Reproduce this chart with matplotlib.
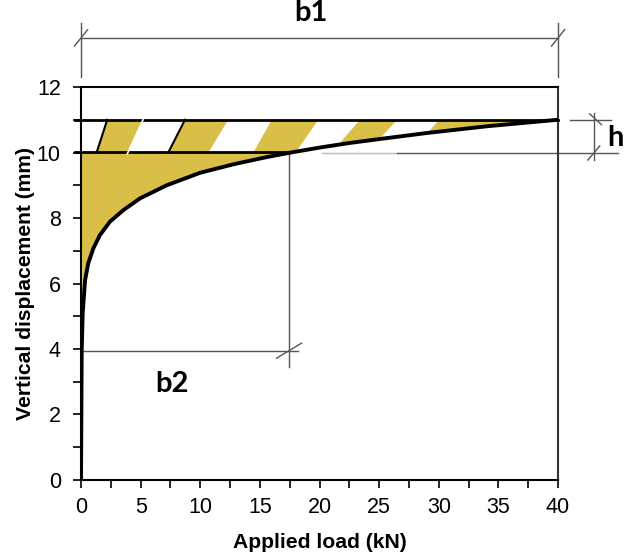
import numpy as np
import matplotlib
matplotlib.use("Agg")
import matplotlib.pyplot as plt
from matplotlib.patches import Polygon

# load-displacement curve
load = [0, 0.03, 0.06, 0.14, 0.34, 0.61, 1.03, 1.59, 2.43, 3.55, 4.95, 7.19, 9.98,
        12.77, 15.57, 17.6, 20.0, 22.5, 25.0, 29.1, 34.0, 40.0]
disp = [0, 2.0, 3.97, 5.09, 6.1, 6.62, 7.07, 7.48, 7.89, 8.24, 8.6, 9.0, 9.38,
        9.64, 9.86, 10.0, 10.15, 10.29, 10.41, 10.6, 10.8, 11.0]

# hatched band limits (mm) and stripe edges (kN) at top / bottom of band
band_low, band_high = 10.0, 11.0
stripe_top_start = [2.2, 8.72, 16.0, 23.4, 30.0]
stripe_top_end = [5.2, 12.35, 19.9, 26.5, 40.0]
stripe_bot_start = [1.31, 7.32, 14.45, 21.0, 27.6]
stripe_bot_end = [3.97, 10.68, 18.0, 24.0, 40.0]

# dimension annotations
b1_level = 13.5
b2_load = 17.45
b2_disp = 3.95
h_load = 43.0

yellow = "#d9bf47"
load = np.array(load)
disp = np.array(disp)

fig = plt.figure(figsize=(6.27, 5.56), dpi=100)
ax = fig.add_axes([0.1292, 0.1367, 0.7608, 0.7068])
ax.set_xlim(0, 40)
ax.set_ylim(0, 12)

# yellow area under y=10 between axis and curve
low = (disp >= 4.5) & (disp <= band_low + 0.05)
ax.fill(np.r_[0, load[low]], np.r_[band_low, disp[low]], color=yellow, lw=0, zorder=1)

# band between y=10 / curve and y=11, used to clip the stripes
upper = load >= 17.6
band_x = np.r_[0, 40, load[upper][::-1], 0]
band_y = np.r_[band_high, band_high, disp[upper][::-1], band_low]
band = Polygon(np.c_[band_x, band_y], closed=True, transform=ax.transData)
for ts, te, bs, be in zip(stripe_top_start, stripe_top_end, stripe_bot_start, stripe_bot_end):
    p = Polygon([(bs, band_low), (be, band_low), (te, band_high), (ts, band_high)],
                closed=True, color=yellow, lw=0, zorder=1)
    ax.add_patch(p)
    p.set_clip_path(band)
# hand drawn stripe edges
for i in range(2):
    ax.plot([stripe_bot_start[i], stripe_top_start[i]], [band_low, band_high],
            color="black", lw=1.5, zorder=2)
ax.plot([stripe_bot_end[0] - 0.1, stripe_top_end[0]], [band_low - 0.05, band_high],
        color="white", lw=1.2, zorder=5)

# band borders
ax.plot([-0.5, 40], [band_high, band_high], color="black", lw=2, zorder=3, clip_on=False)
ax.plot([-0.5, 17.6], [band_low + 0.03, band_low + 0.03], color="black", lw=2, zorder=3, clip_on=False)
ax.plot([20.2, 26.5], [band_low, band_low], color="#bbbbbb", lw=1, zorder=2)
ax.plot([26.5, 45.0], [band_low, band_low], color="#555555", lw=1, zorder=2, clip_on=False)

# curve
ax.plot(load, disp, color="black", lw=2.8, zorder=4, solid_capstyle="round",
        solid_joinstyle="round")

dim = "#555555"
# b1
ax.plot([0, 40], [b1_level, b1_level], color=dim, lw=1, clip_on=False)
for xx in [0, 40]:
    ax.plot([xx, xx], [12.3, 13.95], color=dim, lw=1, clip_on=False)
    ax.plot([xx - 0.55, xx + 0.55], [b1_level - 0.25, b1_level + 0.25], color=dim, lw=1, clip_on=False)
ax.text(19.3, 14.25, "b1", ha="center", va="center", fontsize=21,
        fontweight="bold", family="Lato", clip_on=False)

# b2
ax.plot([0, 18.2], [b2_disp, b2_disp], color=dim, lw=1)
ax.plot([b2_load, b2_load], [band_low, 3.46], color=dim, lw=1)
ax.plot([16.4, 18.5], [3.72, 4.18], color=dim, lw=1)
ax.text(7.6, 2.92, "b2", ha="center", va="center", fontsize=21,
        fontweight="bold", family="Lato")

# h
ax.plot([41.0, 44.4], [band_high, band_high], color=dim, lw=1, clip_on=False)
ax.plot([h_load, h_load], [9.77, 11.2], color=dim, lw=1, clip_on=False)
ax.plot([h_load - 0.35, h_load + 0.65], [11.18, 10.85], color=dim, lw=1, clip_on=False)
ax.plot([h_load - 0.5, h_load + 0.5], [9.77, 10.2], color=dim, lw=1, clip_on=False)
ax.text(44.15, 10.45, "h", ha="left", va="center", fontsize=21,
        fontweight="bold", family="Lato", clip_on=False)

# axes styling
ax.set_xticks(np.arange(0, 41, 5))
ax.set_xticks(np.arange(0, 41, 2.5), minor=True)
ax.set_yticks(np.arange(0, 13, 2))
ax.set_yticks(np.arange(0, 13, 1), minor=True)
ax.tick_params(which="both", direction="out", length=6, width=1.2, color="black")
ax.tick_params(axis="x", pad=6)
ax.tick_params(axis="y", pad=8.5)
for lab in ax.get_xticklabels() + ax.get_yticklabels():
    lab.set_family("Liberation Sans")
    lab.set_fontsize(15.5)
for s in ax.spines.values():
    s.set_linewidth(1.5)
    s.set_color("black")
ax.spines["right"].set_color("#333333")

ax.set_xlabel("Applied load (kN)", fontsize=15.2, fontweight="bold", family="Liberation Sans")
ax.set_ylabel("Vertical displacement (mm)", fontsize=15.2, fontweight="bold", family="Liberation Sans")
ax.xaxis.set_label_coords(0.5, -0.135)
ax.yaxis.set_label_coords(-0.096, 0.5)

fig.savefig("out.png", dpi=100)
